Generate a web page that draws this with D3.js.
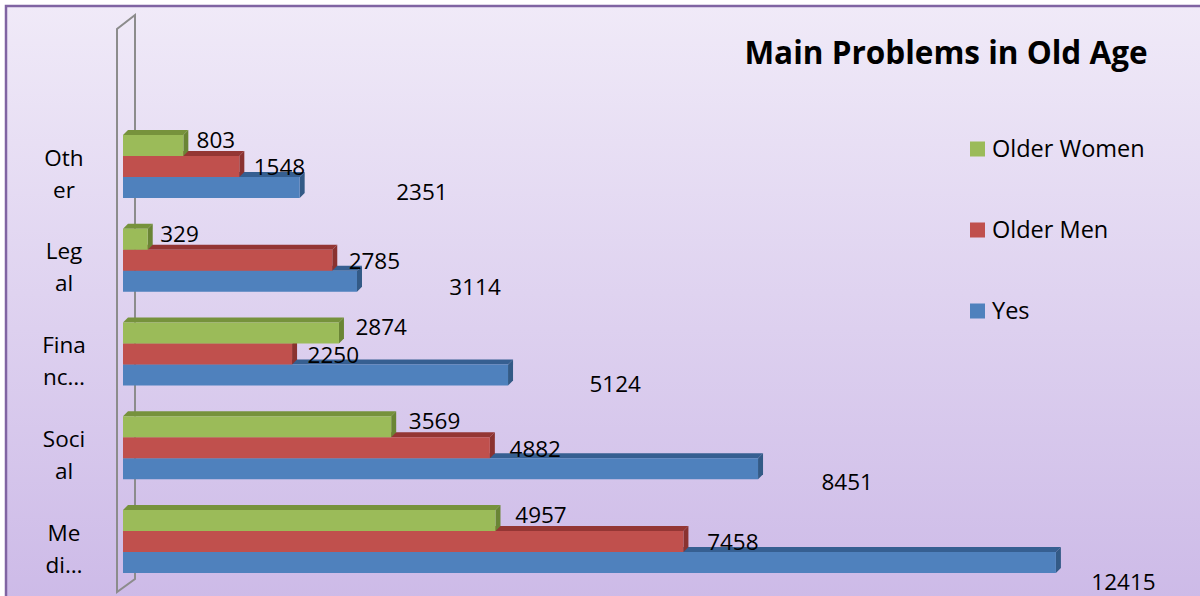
<!DOCTYPE html>
<html>
<head>
<meta charset="utf-8">
<script src="https://cdn.jsdelivr.net/npm/d3@7"></script>
<style>
  body { margin: 0; background: #fff; }
  text { font-family: "Open Sans", sans-serif; fill: #000; }
</style>
</head>
<body>
<svg id="chart" width="1200" height="596"></svg>
<script>
// data, top to bottom as drawn
var categories = ['Other', 'Legal', 'Financial', 'Social', 'Medical'];
var catLines = [['Oth', 'er'], ['Leg', 'al'], ['Fina', 'nc…'], ['Soci', 'al'], ['Me', 'di…']];
var seriesNames = ['Older Women', 'Older Men', 'Yes'];
var olderWomen = [803, 329, 2874, 3569, 4957];
var olderMen = [1548, 2785, 2250, 4882, 7458];
var yes = [2351, 3114, 5124, 8451, 12415];
var seriesValues = [olderWomen, olderMen, yes];

var colors = ['#9BBB59', '#C0504D', '#4F81BD'];
var topColors = ['#76923C', '#943634', '#365F91'];
var sideColors = ['#6A8535', '#8A3230', '#335A86'];

var svg = d3.select('#chart');

// background
var defs = svg.append('defs');
var grad = defs.append('linearGradient')
    .attr('id', 'bg')
    .attr('x1', 0).attr('y1', 0).attr('x2', 0).attr('y2', 1);
grad.append('stop').attr('offset', '0%').attr('stop-color', '#F0EAF8');
grad.append('stop').attr('offset', '100%').attr('stop-color', '#CCB9E7');

svg.append('rect')
    .attr('x', 6).attr('y', 6)
    .attr('width', 1210).attr('height', 610)
    .attr('fill', 'url(#bg)')
    .attr('stroke', '#8064A2')
    .attr('stroke-width', 2.5);

// scales
var x = d3.scaleLinear().domain([0, 14000]).range([123, 1175]);
var yCat = d3.scalePoint().domain(categories).range([166.5, 541.5]);
var barH = 21;
var depth = 5;
// label placement scales (data labels drift right/down in the 3d view)
var labelX = d3.scaleLinear().domain([0, 14000]).range([135, 1209]);
var labelXBack = d3.scaleLinear().domain([0, 14000]).range([258, 1234]);
var labelDy = d3.scaleLinear().domain([0, 14000]).range([1, 22]);

// back wall
svg.append('path')
    .attr('d', 'M117,592 L117,29 L135,15 L135,579 Z')
    .attr('fill', 'none')
    .attr('stroke', '#8C8C8C')
    .attr('stroke-width', 2);

// bars, drawn from the lowest series (Yes) up so the top faces are overlapped correctly
[2, 1, 0].forEach(function (s) {
    var g = svg.append('g').attr('class', 'series s' + s);
    var vals = seriesValues[s];
    var yTop = function (i) { return yCat(categories[i]) - 1.5 * barH + s * barH; };

    // top face
    g.selectAll('.top')
        .data(vals)
        .enter()
        .append('path')
        .attr('class', 'top')
        .attr('fill', topColors[s])
        .attr('d', function (v, i) {
            var x0 = x(0), x1 = x(v), y0 = yTop(i);
            return 'M' + x0 + ',' + y0 + 'L' + (x0 + depth) + ',' + (y0 - depth) +
                'L' + (x1 + depth) + ',' + (y0 - depth) + 'L' + x1 + ',' + y0 + 'Z';
        });

    // side face
    g.selectAll('.side')
        .data(vals)
        .enter()
        .append('path')
        .attr('class', 'side')
        .attr('fill', sideColors[s])
        .attr('d', function (v, i) {
            var x1 = x(v), y0 = yTop(i);
            return 'M' + x1 + ',' + y0 + 'L' + (x1 + depth) + ',' + (y0 - depth) +
                'L' + (x1 + depth) + ',' + (y0 + barH - depth) + 'L' + x1 + ',' + (y0 + barH) + 'Z';
        });

    // front face
    g.selectAll('.front')
        .data(vals)
        .enter()
        .append('rect')
        .attr('class', 'front')
        .attr('fill', colors[s])
        .attr('x', x(0))
        .attr('y', function (v, i) { return yTop(i); })
        .attr('width', function (v) { return x(v) - x(0); })
        .attr('height', barH);
});

// data labels
seriesValues.forEach(function (vals, s) {
    svg.selectAll('.lbl' + s)
        .data(vals)
        .enter()
        .append('text')
        .attr('class', 'lbl' + s)
        .attr('x', function (v) { return s === 2 ? labelXBack(v) : labelX(v); })
        .attr('y', function (v, i) {
            var c = yCat(categories[i]) + (s - 1) * barH;
            if (s === 0) return c - barH / 2 + 5;
            if (s === 1) return c + 1;
            return c + labelDy(v);
        })
        .attr('dy', '0.35em')
        .style('font-size', '22.5px')
        .style('text-anchor', s === 2 ? 'middle' : 'start')
        .text(function (v) { return v; });
});

// category labels
categories.forEach(function (c, i) {
    var t = svg.append('text')
        .attr('x', 64)
        .attr('y', yCat(c) + 7)
        .style('font-size', '22.5px')
        .style('text-anchor', 'middle');
    catLines[i].forEach(function (line, k) {
        t.append('tspan')
            .attr('x', 64)
            .attr('dy', k === 0 ? '-0.35em' : '1.42em')
            .text(line);
    });
});

// title
svg.append('text')
    .attr('x', 946)
    .attr('y', 53)
    .attr('dy', '0.35em')
    .style('font-size', '31.5px')
    .style('font-weight', 'bold')
    .style('text-anchor', 'middle')
    .text('Main Problems in Old Age');

// legend
var legend = svg.append('g').attr('class', 'legend');
var legendY = d3.scalePoint().domain(seriesNames).range([149, 311]);
seriesNames.forEach(function (n, s) {
    legend.append('rect')
        .attr('x', 970)
        .attr('y', legendY(n) - 7.5)
        .attr('width', 15)
        .attr('height', 15)
        .attr('fill', colors[s]);
    legend.append('text')
        .attr('x', 992)
        .attr('y', legendY(n))
        .attr('dy', '0.35em')
        .style('font-size', '23.5px')
        .text(n);
});
</script>
</body>
</html>
